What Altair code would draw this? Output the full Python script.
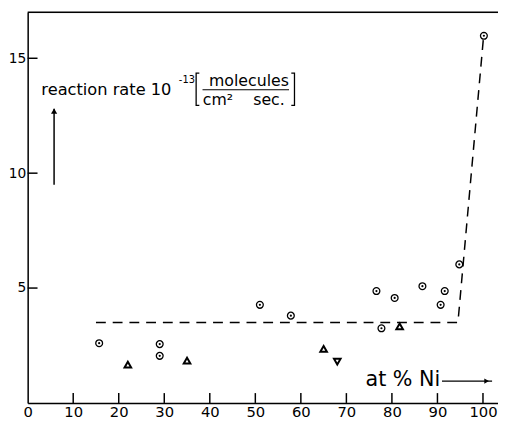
import altair as alt
import pandas as pd

# ---- data ----
circle_x = [15.7, 29.0, 29.0, 51.0, 57.8, 76.6, 77.7, 80.6, 86.7, 90.7, 91.6, 94.8, 100.2]
circle_y = [2.60, 2.56, 2.05, 4.27, 3.80, 4.87, 3.25, 4.57, 5.08, 4.27, 4.87, 6.03, 15.98]
tri_up_x = [22.0, 35.0, 65.0, 81.7]
tri_up_y = [1.67, 1.84, 2.35, 3.33]
tri_down_x = [68.0]
tri_down_y = [1.80]
dash_x = [15.0, 94.5, 100.2]
dash_y = [3.50, 3.50, 16.10]
x_ticks = [0, 10, 20, 30, 40, 50, 60, 70, 80, 90, 100]
y_ticks = [5, 10, 15]

FONT = "DejaVu Sans"
W, H = 478, 397
XD = [0, 103.3]
YD = [0, 17]

circles = pd.DataFrame({"x": circle_x, "y": circle_y})
tri_up = pd.DataFrame({"x": tri_up_x, "y": tri_up_y})
tri_dn = pd.DataFrame({"x": tri_down_x, "y": tri_down_y})
dash = pd.DataFrame({"x": dash_x, "y": dash_y, "o": list(range(len(dash_x)))})

xs = alt.Scale(domain=XD, nice=False, zero=False)
ys = alt.Scale(domain=YD, nice=False, zero=False)

xaxis = alt.Axis(values=x_ticks, title=None, grid=False, tickSize=0, labelFontSize=15,
                 labelFont=FONT, labelColor="black", domainColor="black", domainWidth=1.5,
                 labelPadding=2, labelFlush=False)
yaxis = alt.Axis(values=y_ticks, title=None, grid=False, tickSize=0, labelFontSize=14,
                 labelFont=FONT, labelColor="black", domainColor="black", domainWidth=1.5,
                 labelPadding=2)

base_pts = alt.Chart(circles).mark_point(shape="circle", filled=False, color="black",
                                         size=48, strokeWidth=1.3, opacity=1).encode(
    x=alt.X("x:Q", scale=xs, axis=xaxis),
    y=alt.Y("y:Q", scale=ys, axis=yaxis),
)
dots = alt.Chart(circles).mark_point(shape="circle", filled=True, color="black",
                                     size=5, opacity=1).encode(
    x=alt.X("x:Q", scale=xs), y=alt.Y("y:Q", scale=ys))
tu = alt.Chart(tri_up).mark_point(shape="triangle-up", filled=False, color="black",
                                  size=45, strokeWidth=2, opacity=1).encode(
    x=alt.X("x:Q", scale=xs), y=alt.Y("y:Q", scale=ys))
td = alt.Chart(tri_dn).mark_point(shape="triangle-down", filled=False, color="black",
                                  size=45, strokeWidth=2, opacity=1).encode(
    x=alt.X("x:Q", scale=xs), y=alt.Y("y:Q", scale=ys))

dline = alt.Chart(dash).mark_line(color="black", strokeWidth=1.5, strokeDash=[10, 7]).encode(
    x=alt.X("x:Q", scale=xs), y=alt.Y("y:Q", scale=ys), order="o:Q")

xt = alt.Chart(pd.DataFrame({"t": x_ticks[1:]})).mark_rule(color="black", strokeWidth=1.5).encode(
    x=alt.X("t:Q", scale=xs), y=alt.value(H), y2=alt.value(H - 10))
yt = alt.Chart(pd.DataFrame({"t": y_ticks})).mark_rule(color="black", strokeWidth=1.5).encode(
    y=alt.Y("t:Q", scale=ys), x=alt.value(0), x2=alt.value(10))

top = alt.Chart(pd.DataFrame({"a": [0]})).mark_rule(color="black", strokeWidth=1.5).encode(
    y=alt.datum(17, scale=ys), x=alt.datum(0, scale=xs), x2=alt.datum(103.3))


def txt(s, x, y, size=15, align="left"):
    return alt.Chart(pd.DataFrame({"s": [s]})).mark_text(
        font=FONT, fontSize=size, align=align, baseline="middle", color="black").encode(
        x=alt.datum(x, scale=xs), y=alt.datum(y, scale=ys), text="s:N")


def seg(pts, w=1.3):
    df = pd.DataFrame({"x": [p[0] for p in pts], "y": [p[1] for p in pts], "o": list(range(len(pts)))})
    return alt.Chart(df).mark_line(color="black", strokeWidth=w).encode(
        x=alt.X("x:Q", scale=xs), y=alt.Y("y:Q", scale=ys), order="o:Q")


def head(x, y, shape, size=40):
    return alt.Chart(pd.DataFrame({"a": [0]})).mark_point(
        shape=shape, filled=True, color="black", size=size, opacity=1).encode(
        x=alt.datum(x, scale=xs), y=alt.datum(y, scale=ys))


annot = [
    txt("reaction rate 10", 3.0, 13.6, size=16.5),
    txt("-13", 33.2, 14.05, size=10),
    seg([(37.7, 14.35), (37.0, 14.35), (37.0, 12.95), (37.7, 12.95)]),
    seg([(57.9, 14.35), (58.6, 14.35), (58.6, 12.95), (57.9, 12.95)]),
    txt("molecules", 48.6, 14.0, size=16, align="center"),
    seg([(38.4, 13.63), (57.4, 13.63)], w=1.2),
    txt("cm²", 41.8, 13.2, size=16, align="center"),
    txt("sec.", 53.0, 13.2, size=16, align="center"),
    seg([(5.8, 9.5), (5.8, 12.8)], w=1.5),
    head(5.8, 12.7, "triangle-up"),
    txt("at % Ni", 74.2, 0.98, size=21),
    seg([(91.0, 0.95), (102.0, 0.95)], w=1.2),
    head(100.8, 0.95, "triangle-right", size=30),
]

chart = alt.layer(top, xt, yt, dline, base_pts, dots, tu, td, *annot).properties(
    width=W, height=H,
    autosize=alt.AutoSizeParams(type="none"),
    padding={"left": 20, "top": 1, "right": 0, "bottom": 18},
).configure_view(stroke=None).configure(background="white")

chart.save("out.html", embed_options={"renderer": "svg", "actions": False})
